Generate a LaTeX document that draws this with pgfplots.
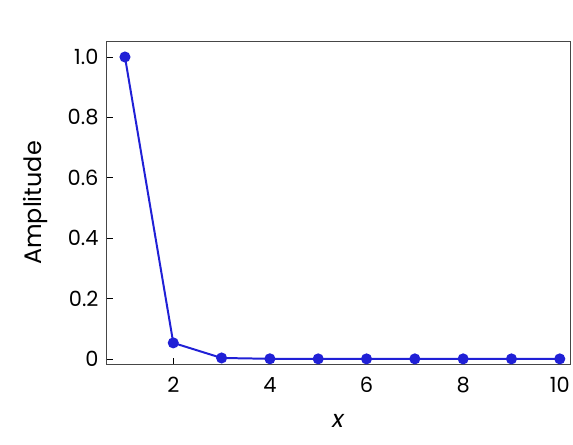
\documentclass[border=0pt]{standalone}
\usepackage{fontspec}
\setmainfont{Poppins}
\usepackage{pgfplots}
\pgfplotsset{compat=1.18}
\definecolor{lineblue}{RGB}{32,32,214}
\definecolor{framegray}{RGB}{70,70,70}
\begin{document}
\begin{tikzpicture}
\begin{axis}[
    name=ax, at={(0,0)}, anchor=south west,
    scale only axis, width=465bp, height=324bp,
    xmin=0.607, xmax=10.23,
    ymin=-0.02, ymax=1.053,
    xtick={2,4,6,8,10},
    ytick={0,0.2,0.4,0.6,0.8,1.0},
    yticklabels={0,0.2,0.4,0.6,0.8,1.0},
    tick align=inside,
    xtick pos=bottom, ytick pos=left,
    major tick length=7bp,
    axis line style={framegray, line width=0.9pt},
    tick style={black, line width=0.7pt},
    /pgf/number format/assume math mode=true,
    ticklabel style={font=\fontsize{21}{24}\selectfont},
    label style={font=\fontsize{24}{28}\selectfont},
    xlabel={\textit{x}},
    ylabel={Amplitude},
    xticklabel style={yshift=-9bp},
    yticklabel style={xshift=-4bp},
    xlabel style={yshift=-14bp},
    ylabel style={yshift=13bp},
]
\addplot[color=lineblue, line width=2pt, mark=*, mark size=4.5pt, mark options={fill=lineblue, draw=lineblue}]
coordinates {
    (1, 1.0)
    (2, 0.053)
    (3, 0.003)
    (4, 0.0003)
    (5, 0)
    (6, 0)
    (7, 0)
    (8, 0)
    (9, 0)
    (10, 0)
};
\end{axis}
\useasboundingbox (-106bp,-80bp) rectangle (467bp,365bp);
\end{tikzpicture}
\end{document}
